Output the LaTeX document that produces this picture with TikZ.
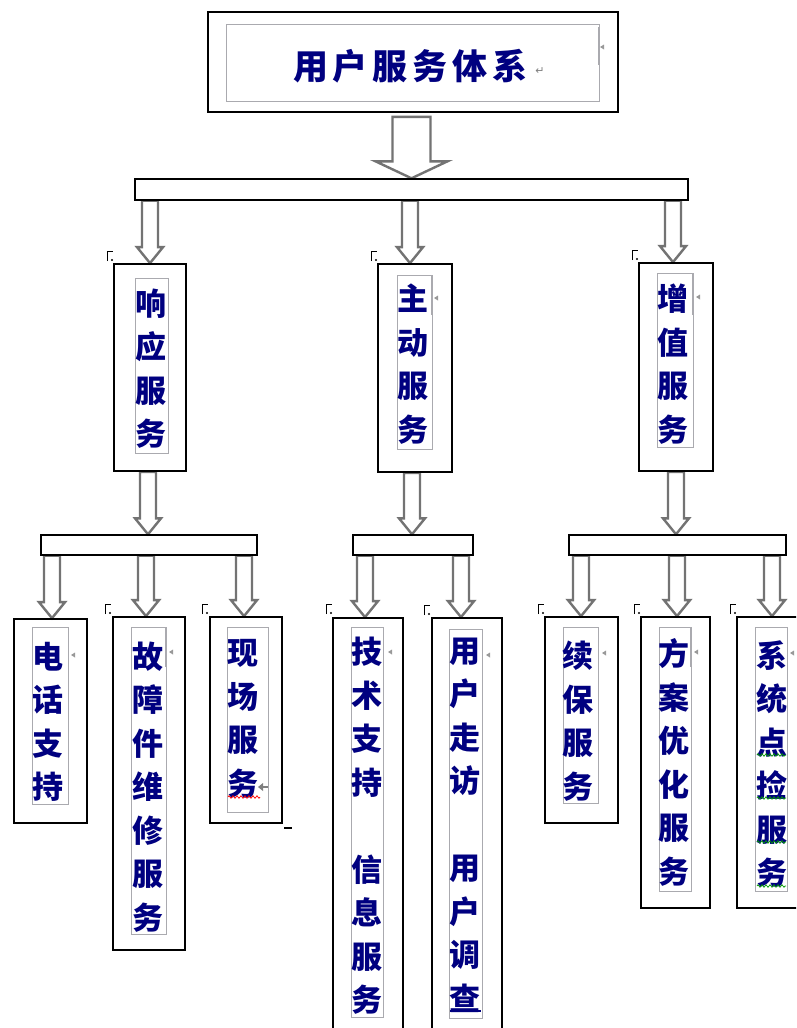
\documentclass[tikz,border=0pt]{standalone}
\usepackage{fontspec}
\newfontfamily\cjk{Noto Sans CJK SC}
\newfontfamily\djv{DejaVu Sans}
\usetikzlibrary{calc,decorations.pathmorphing}
\definecolor{navy}{RGB}{0,0,128}
\definecolor{arrgray}{RGB}{115,115,115}
\definecolor{framegray}{RGB}{170,170,175}
\pgfdeclarelayer{bg}
\pgfsetlayers{bg,main}
\tikzset{
  box/.style={draw=black, line width=1.7pt, rectangle, inner sep=0pt},
  barbox/.style={draw=black, line width=1.4pt, rectangle, inner sep=0pt},
  frame/.style={draw=framegray, line width=0.9pt, rectangle, inner sep=0pt},
  lbl/.style={text=navy, font=\cjk\bfseries\fontsize{31}{43.5}\selectfont, align=center, inner sep=0pt},
  toplbl/.style={text=navy, font=\cjk\bfseries\fontsize{35}{40}\selectfont, inner sep=0pt},
  barrow/.style n args={3}{to path={let \p1=(\tikztostart), \p2=(\tikztotarget) in
     (\x2-#1,\y1) -- (\x2-#1,\y2+#3) -- (\x2-#2,\y2+#3) -- (\x2,\y2) -- (\x2+#2,\y2+#3) -- (\x2+#1,\y2+#3) -- (\x2+#1,\y1) -- cycle},
     draw=arrgray, fill=white, line width=2.4pt, line join=miter},
  arrA/.style={barrow={19pt}{36pt}{17pt}},
  arrB/.style={barrow={8pt}{13pt}{16pt}},
  mk/.style={fill=gray!80},
  wavy/.style={decorate, decoration={zigzag, segment length=4pt, amplitude=1.3pt}, line width=0.7pt},
}
\newcommand\cornermark[2]{%
  \draw[line width=1pt] (#1,#2+10) -- (#1,#2) -- (#1+6,#2);
  \fill (#1+5,#2+9) circle (1.1);}
\newcommand\smallmark[2]{\fill[mk] (#1,#2) -- (#1+4,#2-2.5) -- (#1+4,#2+2.5) -- cycle;}
\begin{document}
\begin{tikzpicture}[x=1pt,y=-1pt]
\useasboundingbox (0,0) rectangle (796,1028);
\clip (0,0) rectangle (796,1028);

% ---- top
\node[box, minimum width=410pt, minimum height=100pt] (top) at (413,62) {};
\node[frame, minimum width=373pt, minimum height=77pt] (topF) at (412.5,62.5) {};
\node[toplbl] (topT) at (410.5,66) {用\kern5pt户\kern5pt服\kern5pt务\kern5pt体\kern5pt系};
\node[text=gray, font=\djv\fontsize{11}{11}\selectfont, inner sep=0pt] (topR) at (540,71) {↵};
\draw[framegray, line width=2pt] (599,27) -- (599,65);
\smallmark{600}{47}

\node[barbox, minimum width=553pt, minimum height=21pt] (bar1) at (411.5,189.5) {};

% ---- level 1
\node[box, minimum width=72pt, minimum height=207pt] (resp) at (150,367.5) {};
\node[frame, minimum width=33pt, minimum height=175pt] (respF) at (151.5,365.5) {};
\node[lbl] (respT) at (151,368.5) {响\\应\\服\\务};

\node[box, minimum width=74pt, minimum height=208pt] (act) at (415,368) {};
\node[frame, minimum width=35pt, minimum height=174pt] (actF) at (414.5,362) {};
\node[lbl] (actT) at (413,364) {主\\动\\服\\务};
\draw[framegray, line width=2pt] (432,276) -- (432,315);
\smallmark{434}{298}

\node[box, minimum width=74pt, minimum height=208pt] (val) at (676,367) {};
\node[frame, minimum width=36pt, minimum height=174pt] (valF) at (675,360) {};
\node[lbl] (valT) at (673,364) {增\\值\\服\\务};
\draw[framegray, line width=2pt] (693,274) -- (693,315);
\smallmark{696}{297}

\node[barbox, minimum width=216pt, minimum height=20pt] (barL) at (149,545) {};
\node[barbox, minimum width=120pt, minimum height=20pt] (barM) at (413,545) {};
\node[barbox, minimum width=217pt, minimum height=20pt] (barR) at (677.5,545) {};

% ---- level 2, left group
\node[box, minimum width=73pt, minimum height=204pt] (tel) at (50.5,721) {};
\node[frame, minimum width=36pt, minimum height=177pt] (telF) at (50,716) {};
\node[lbl] (telT) at (48,722) {电\\话\\支\\持};
\smallmark{71}{655}

\node[box, minimum width=72pt, minimum height=333pt] (fix) at (149,783.5) {};
\node[frame, minimum width=35pt, minimum height=307pt] (fixF) at (148.5,780.5) {};
\node[lbl] (fixT) at (147.5,787) {故\\障\\件\\维\\修\\服\\务};
\draw[framegray, line width=2pt] (166,628) -- (166,667);
\smallmark{169}{652}

\node[box, minimum width=72pt, minimum height=206pt] (site) at (246,720) {};
\node[frame, minimum width=41pt, minimum height=185pt] (siteF) at (247.5,719.5) {};
\node[lbl] (siteT) at (242.5,719) {现\\场\\服\\务};
\draw[gray, line width=1.5pt] (260,787) -- (268,787);
\fill[gray] (258,787) -- (263,783) -- (263,791) -- cycle;
\draw[red, wavy] (228,797) -- (260,797);
\draw[black, line width=1.3pt] (284,828) -- (292,828);

% ---- level 2, middle group
\node[box, minimum width=70pt, minimum height=424pt] (tech) at (368,830) {};
\node[frame, minimum width=32pt, minimum height=390pt] (techF) at (367,822) {};
\node[lbl] (techT) at (367,826) {技\\术\\支\\持\\[43.5pt]信\\息\\服\\务};
\smallmark{388}{652}

\node[box, minimum width=70pt, minimum height=424pt] (visit) at (467,830) {};
\node[frame, minimum width=33pt, minimum height=389pt] (visitF) at (465.5,823.5) {};
\node[lbl] (visitT) at (465,825) {用\\户\\走\\访\\[43.5pt]用\\户\\调\\查};
\draw[navy, line width=1.2pt] (450,1011) -- (481,1011);
\smallmark{486}{655}

% ---- level 2, right group
\node[box, minimum width=73pt, minimum height=206pt] (renew) at (581.5,720) {};
\node[frame, minimum width=35pt, minimum height=176pt] (renewF) at (580.5,715) {};
\node[lbl] (renewT) at (578,721) {续\\保\\服\\务};
\smallmark{602}{653}

\node[box, minimum width=69pt, minimum height=291pt] (plan) at (675.5,762.5) {};
\node[frame, minimum width=32pt, minimum height=264pt] (planF) at (675,759) {};
\node[lbl] (planT) at (674,762.5) {方\\案\\优\\化\\服\\务};
\draw[framegray, line width=2pt] (691,628) -- (691,667);
\smallmark{694}{652}

\node[box, minimum width=73pt, minimum height=291pt] (check) at (773.5,762.5) {};
\node[frame, minimum width=32pt, minimum height=264pt] (checkF) at (771,759) {};
\node[lbl] (checkT) at (771.5,764) {系\\统\\点\\捡\\服\\务};
\foreach \yy in {755,798,842,886} \draw[green!60!black, wavy] (757,\yy) -- (786,\yy);
\smallmark{790}{653}

% ---- corner marks
\cornermark{107}{251}
\cornermark{371}{251}
\cornermark{632}{250}
\cornermark{105}{604}
\cornermark{202}{604}
\cornermark{326}{604}
\cornermark{424}{605}
\cornermark{538}{604}
\cornermark{634}{604}
\cornermark{730}{604}

% ---- block arrows
\begin{pgfonlayer}{bg}
\fill[white] (0,0) rectangle (796,1028);
\draw[arrA] ([yshift=-4pt]top.south) to (bar1.north);
\draw[arrB] (bar1.south -| resp.north) to (resp.north);
\draw[arrB] (bar1.south -| act.north) to ($(act.north)+(-5,0)$);
\draw[arrB] (bar1.south -| val.north) to ($(val.north)+(-3,0)$);
\draw[arrB] (resp.south) to ($(barL.north -| resp.south)+(-2,0)$);
\draw[arrB] (act.south) to ($(barM.north -| act.south)+(-3,0)$);
\draw[arrB] (val.south) to (barR.north -| val.south);
\draw[arrB] (barL.south -| tel.north) to ($(tel.north)+(1.5,0)$);
\draw[arrB] (barL.south -| fix.north) to ($(fix.north)+(-3,0)$);
\draw[arrB] (barL.south -| site.north) to ($(site.north)+(-2,0)$);
\draw[arrB] (barM.south -| tech.north) to ($(tech.north)+(-3,0)$);
\draw[arrB] (barM.south -| visit.north) to ($(visit.north)+(-6,0)$);
\draw[arrB] (barR.south -| renew.north) to ($(renew.north)+(-0.5,0)$);
\draw[arrB] (barR.south -| plan.north) to ($(plan.north)+(1.5,0)$);
\draw[arrB] (barR.south -| check.north) to ($(check.north)+(-1.5,0)$);
\end{pgfonlayer}
\end{tikzpicture}
\end{document}
